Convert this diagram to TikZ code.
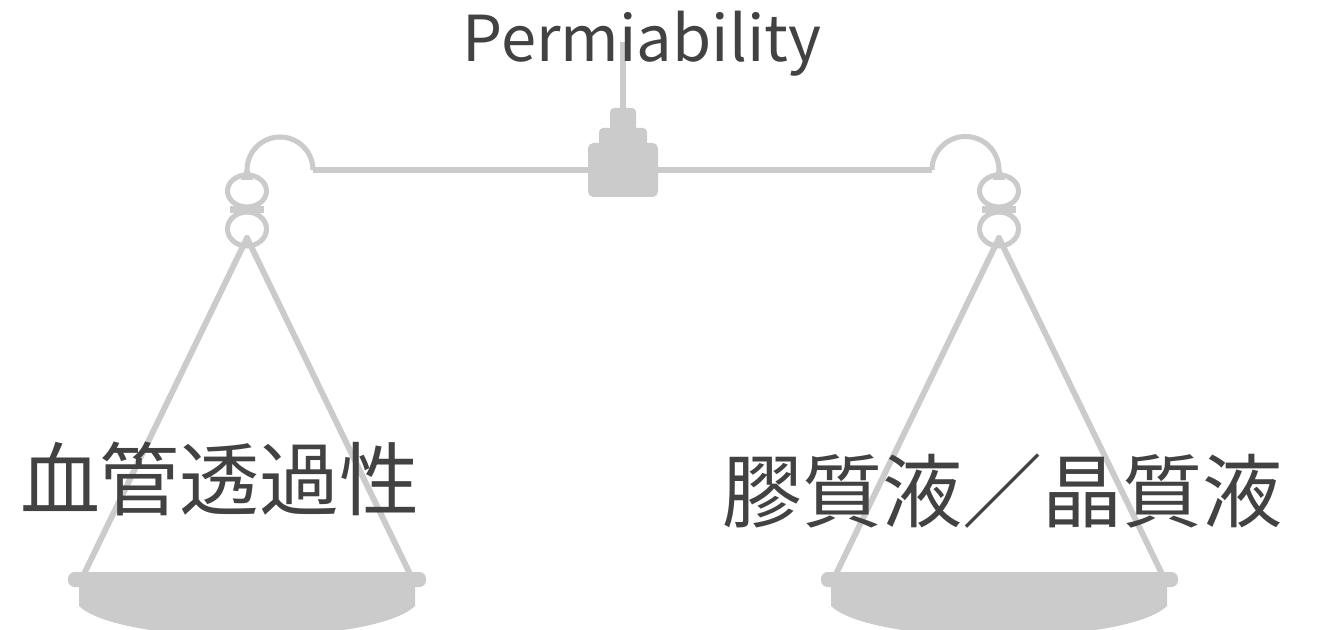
\documentclass[tikz,border=0pt]{standalone}
\usepackage{fontspec}
\setmainfont{Noto Sans CJK JP}
\definecolor{scalegray}{HTML}{CBCBCB}
\definecolor{txtgray}{HTML}{424242}
\tikzset{
	rope/.style={draw=scalegray, line width=3.8pt, line cap=round},
	string/.style={rope, line width=4.4pt},
	metal/.style={fill=scalegray, draw=none},
	lbl/.style={text=txtgray, inner sep=0pt, anchor=base}
}

\begin{document}
\begin{tikzpicture}[x=0.75pt,y=-0.75pt]
	\useasboundingbox (0,0) rectangle (1328,630);
	\clip (0,0) rectangle (1328,630);
	% stem and weight in the middle
	\draw[rope, line cap=butt] (623,42)--(623,112);
	\fill[metal, rounded corners=3pt] (610,108) rectangle (636,132);
	\fill[metal, rounded corners=3pt] (599,128) rectangle (647,148);
	\fill[metal, rounded corners=4pt] (588,143) rectangle (658,197);
	% beam with both hooks
	\draw[rope, line cap=butt] (313,170)--(932,170);
	\draw[rope, line cap=butt] (313,170) arc[start angle=0, end angle=-180, radius=33];
	\draw[rope, line cap=butt] (932,170) arc[start angle=180, end angle=360, radius=33.5];
	% left pan
	\fill[metal] (247,163)--(253,180)--(241,180)--cycle;
	\draw[rope] (247,191) ellipse[x radius=19.5, y radius=16];
	\draw[rope] (247,229) ellipse[x radius=19.5, y radius=17];
	\fill[metal] (230,206) rectangle (264,213);
	\draw[string] (247,238)--(84,574);
	\draw[string] (247,238)--(410,574);
	\fill[metal, rounded corners=5pt] (68,572) rectangle (426,587);
	\fill[metal] (79,584)--(79,606) .. controls (100,626) and (170,636) .. (247,637)
		.. controls (324,636) and (394,626) .. (415,606)--(415,584)--cycle;
	% right pan
	\fill[metal] (999,163)--(1005,180)--(993,180)--cycle;
	\draw[rope] (999,191) ellipse[x radius=19.5, y radius=16];
	\draw[rope] (999,229) ellipse[x radius=19.5, y radius=17];
	\fill[metal] (982,206) rectangle (1016,213);
	\draw[string] (999,238)--(836,574);
	\draw[string] (999,238)--(1162,574);
	\fill[metal, rounded corners=5pt] (821,572) rectangle (1178,587);
	\fill[metal] (831,584)--(831,606) .. controls (852,626) and (922,636) .. (999,637)
		.. controls (1076,636) and (1146,626) .. (1167,606)--(1167,584)--cycle;
	% labels
	\node[lbl, font=\fontsize{47.5}{47.5}\selectfont] (perm) at (642,62) {Permiability};
	\node[lbl, font=\fontsize{60}{60}\selectfont] (vessel) at (220,510) {血管透過性};
	\node[lbl, font=\fontsize{60}{60}\selectfont] (fluid) at (1002,522) {膠質液／晶質液};
\end{tikzpicture}
\end{document}
